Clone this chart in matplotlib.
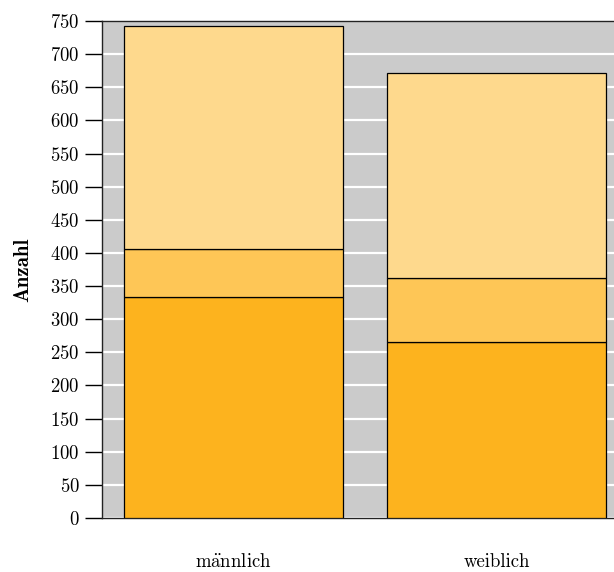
import matplotlib

matplotlib.use("Agg")
import matplotlib.pyplot as plt  # noqa: E402
import numpy as np  # noqa: E402

plt.rcParams["font.family"] = ["cmr10", "DejaVu Serif"]
plt.rcParams["mathtext.fontset"] = "cm"
plt.rcParams["axes.formatter.use_mathtext"] = True

categories = [r"m$\mathrm{\ddot{a}}$nnlich", "weiblich"]
seg_bottom = [334, 266]
seg_middle = [72, 96]
seg_top = [336, 310]
yticks = list(range(0, 751, 50))

colors = ["#fdb31e", "#fec656", "#fed98d"]


def main():
    fig = plt.figure(figsize=(6.14, 5.72), dpi=100)
    ax = fig.add_axes([102 / 614, 1 - 518 / 572, 526 / 614, (518 - 21) / 572])
    ax.set_facecolor("#cbcbcb")

    x = np.arange(len(categories))
    w = 0.833
    bottom = np.zeros(len(categories))
    for vals, c in zip([seg_bottom, seg_middle, seg_top], colors):
        ax.bar(x, vals, w, bottom=bottom, color=c, edgecolor="black", lw=0.9, zorder=3)
        bottom += np.array(vals)

    ax.set_xlim(-0.5, 1.5)
    ax.set_ylim(0, 750)
    ax.set_yticks(yticks)
    ax.set_xticks(x)
    ax.set_xticklabels(categories)
    ax.grid(axis="y", color="white", lw=1.6, zorder=1)
    ax.set_axisbelow(True)

    ax.tick_params(axis="y", length=12.5, width=1, direction="out", labelsize=13.5, pad=3.5)
    ax.tick_params(axis="x", length=0, labelsize=13.5, pad=25)
    for s in ["top", "left", "bottom", "right"]:
        ax.spines[s].set_linewidth(1.0)
        ax.spines[s].set_color("#222222")

    ax.set_ylabel("Anzahl", fontsize=15, fontweight="bold",
                  family=["cmb10", "DejaVu Serif"], labelpad=13)

    fig.savefig("out.png", dpi=100)


if __name__ == "__main__":
    main()
